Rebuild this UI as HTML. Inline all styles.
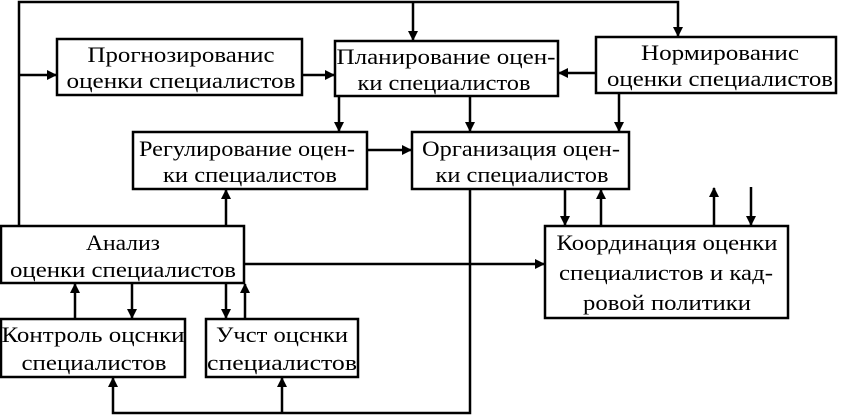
<!DOCTYPE html>
<html><head><meta charset="utf-8"><style>html,body{margin:0;padding:0;background:#fff;width:844px;height:415px;overflow:hidden}</style></head><body>
<svg width="844" height="415" viewBox="0 0 844 415" xmlns="http://www.w3.org/2000/svg" font-family="Liberation Serif, serif" font-size="22" text-anchor="middle">
<defs><marker id="a" markerWidth="10" markerHeight="10" refX="9" refY="5" orient="auto" markerUnits="userSpaceOnUse"><path d="M0,0 L10,5 L0,10 z" fill="#000"/></marker></defs>
<g fill="none" stroke="#000" stroke-width="2.5">
<rect x="57" y="39" width="245" height="56"/>
<rect x="335" y="41" width="223" height="55"/>
<rect x="596" y="37" width="240" height="56"/>
<rect x="133" y="132" width="234" height="57"/>
<rect x="412" y="132" width="217" height="57"/>
<rect x="545" y="226" width="243" height="92"/>
<rect x="1" y="226" width="243" height="57"/>
<rect x="1" y="319" width="184" height="58"/>
<rect x="206" y="319" width="152" height="58"/>
</g>
<g fill="none" stroke="#000" stroke-width="2.5">
<polyline points="19,226 19,2 678,2 678,36" marker-end="url(#a)"/>
<line x1="413" y1="2" x2="413" y2="40" marker-end="url(#a)"/>
<line x1="19" y1="75" x2="56" y2="75" marker-end="url(#a)"/>
<line x1="302" y1="75" x2="334" y2="75" marker-end="url(#a)"/>
<line x1="596" y1="73" x2="559" y2="73" marker-end="url(#a)"/>
<line x1="339" y1="96" x2="339" y2="131" marker-end="url(#a)"/>
<line x1="470" y1="96" x2="470" y2="131" marker-end="url(#a)"/>
<line x1="619" y1="93" x2="619" y2="131" marker-end="url(#a)"/>
<line x1="367" y1="150" x2="411" y2="150" marker-end="url(#a)"/>
<line x1="226" y1="226" x2="226" y2="190" marker-end="url(#a)"/>
<line x1="565" y1="189" x2="565" y2="225" marker-end="url(#a)"/>
<line x1="601" y1="226" x2="601" y2="190" marker-end="url(#a)"/>
<line x1="714" y1="226" x2="714" y2="188" marker-end="url(#a)"/>
<line x1="751" y1="187" x2="751" y2="225" marker-end="url(#a)"/>
<line x1="244" y1="264" x2="544" y2="264" marker-end="url(#a)"/>
<line x1="75" y1="319" x2="75" y2="284" marker-end="url(#a)"/>
<line x1="132" y1="283" x2="132" y2="318" marker-end="url(#a)"/>
<line x1="226" y1="283" x2="226" y2="318" marker-end="url(#a)"/>
<line x1="245" y1="319" x2="245" y2="284" marker-end="url(#a)"/>
<polyline points="470,189 470,413 113,413 113,378" marker-end="url(#a)"/>
<line x1="282" y1="413" x2="282" y2="378" marker-end="url(#a)"/>
</g>
<g fill="#000" lengthAdjust="spacingAndGlyphs">
<text x="181" y="62" textLength="187" lengthAdjust="spacingAndGlyphs">Прогнозированис</text><text x="181" y="88" textLength="229" lengthAdjust="spacingAndGlyphs">оценки специалистов</text>
<text x="446" y="64" textLength="219" lengthAdjust="spacingAndGlyphs">Планирование оцен-</text><text x="444" y="90" textLength="173" lengthAdjust="spacingAndGlyphs">ки специалистов</text>
<text x="720" y="60" textLength="158" lengthAdjust="spacingAndGlyphs">Нормированис</text><text x="720" y="86" textLength="226" lengthAdjust="spacingAndGlyphs">оценки специалистов</text>
<text x="247" y="156" textLength="216" lengthAdjust="spacingAndGlyphs">Регулирование оцен-</text><text x="250" y="182" textLength="174" lengthAdjust="spacingAndGlyphs">ки специалистов</text>
<text x="521" y="156" textLength="198" lengthAdjust="spacingAndGlyphs">Организация оцен-</text><text x="522" y="182" textLength="173" lengthAdjust="spacingAndGlyphs">ки специалистов</text>
<text x="667" y="250" textLength="221" lengthAdjust="spacingAndGlyphs">Координация оценки</text><text x="666" y="280" textLength="214" lengthAdjust="spacingAndGlyphs">специалистов и кад-</text><text x="667" y="310" textLength="168" lengthAdjust="spacingAndGlyphs">ровой политики</text>
<text x="123" y="250" textLength="74" lengthAdjust="spacingAndGlyphs">Анализ</text><text x="123" y="277" textLength="226" lengthAdjust="spacingAndGlyphs">оценки специалистов</text>
<text x="93" y="342" textLength="183" lengthAdjust="spacingAndGlyphs">Контроль оцснки</text><text x="94" y="370" textLength="145" lengthAdjust="spacingAndGlyphs">специалистов</text>
<text x="282" y="342" textLength="132" lengthAdjust="spacingAndGlyphs">Учст оцснки</text><text x="282" y="370" textLength="150" lengthAdjust="spacingAndGlyphs">специалистов</text>
</g>
</svg>
</body></html>
